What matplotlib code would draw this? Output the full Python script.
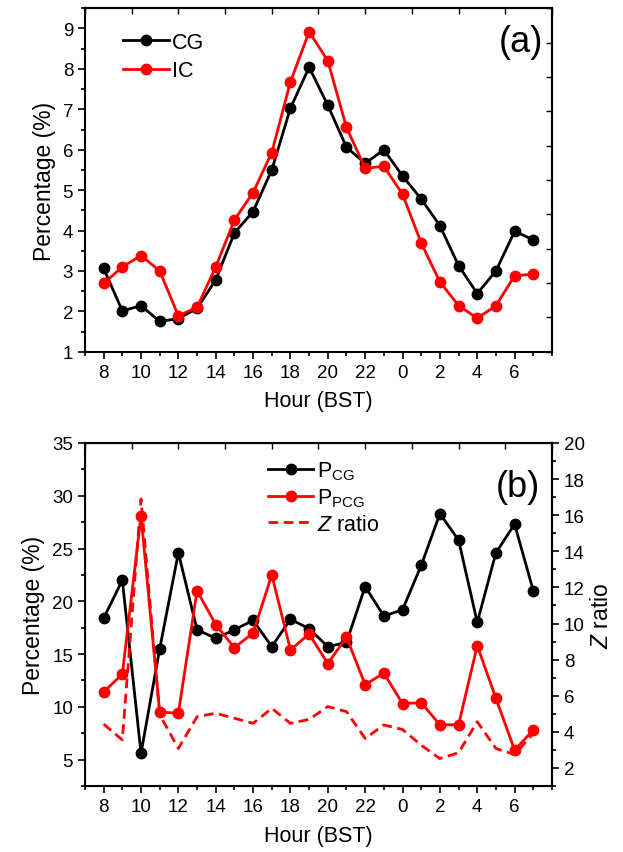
import numpy as np
import matplotlib
matplotlib.use("Agg")
import matplotlib.pyplot as plt
from matplotlib.ticker import MultipleLocator

plt.rcParams["font.family"] = ["Liberation Sans", "DejaVu Sans"]
plt.rcParams["mathtext.fontset"] = "custom"
plt.rcParams["mathtext.rm"] = "Liberation Sans"
plt.rcParams["mathtext.it"] = "Liberation Sans:italic"

# hours in BST, starting at 08
hours = [8, 9, 10, 11, 12, 13, 14, 15, 16, 17, 18, 19, 20, 21, 22, 23,
         0, 1, 2, 3, 4, 5, 6, 7]

# panel (a)
cg = [3.06, 2.01, 2.14, 1.75, 1.82, 2.07, 2.78, 3.94, 4.47, 5.50, 7.03, 8.04,
      7.10, 6.06, 5.66, 6.00, 5.35, 4.78, 4.12, 3.13, 2.44, 3.00, 3.98, 3.77]
ic = [2.69, 3.10, 3.38, 3.00, 1.89, 2.10, 3.10, 4.26, 4.94, 5.93, 7.68, 8.92,
      8.20, 6.55, 5.54, 5.59, 4.90, 3.69, 2.73, 2.14, 1.83, 2.14, 2.88, 2.92]

# panel (b)
p_cg = [18.4, 22.0, 5.6, 15.5, 24.6, 17.3, 16.5, 17.3, 18.2, 15.7, 18.3, 17.4,
        15.7, 16.1, 21.4, 18.6, 19.2, 23.4, 28.3, 25.8, 18.0, 24.6, 27.3, 21.0]
p_pcg = [11.4, 13.1, 28.1, 9.5, 9.4, 21.0, 17.8, 15.6, 17.0, 22.5, 15.4, 16.9,
         14.1, 16.6, 12.1, 13.2, 10.3, 10.4, 8.3, 8.3, 15.8, 10.8, 5.9, 7.8]
z_ratio = [4.43, 3.55, 16.9, 4.95, 3.08, 4.84, 5.03, 4.75, 4.47, 5.30, 4.47, 4.69,
           5.40, 5.12, 3.63, 4.38, 4.13, 3.26, 2.52, 2.84, 4.56, 3.08, 2.74, 3.91]

x = np.arange(len(hours))
tick_pos = x[::2]
tick_lab = [str(h) for h in hours[::2]]

fig = plt.figure(figsize=(6.23, 8.53), dpi=100)
ax1 = fig.add_axes([0.1364, 0.5865, 0.7496, 0.4026])
ax2 = fig.add_axes([0.1364, 0.0774, 0.7496, 0.4021])

lw = 2.0
ms = 7.5
tick_fs = 13.5


def frame(ax, ylim, ymaj, ymin, right_in=True):
    ax.set_xlim(-1, 24)
    ax.set_ylim(*ylim)
    ax.set_xticks(tick_pos)
    ax.set_xticklabels(tick_lab)
    ax.xaxis.set_minor_locator(MultipleLocator(1))
    ax.yaxis.set_major_locator(MultipleLocator(ymaj))
    ax.yaxis.set_minor_locator(MultipleLocator(ymin))
    ax.tick_params(which="major", direction="out", length=5, width=1.2, labelsize=tick_fs)
    ax.tick_params(which="minor", direction="out", length=3, width=1.2)
    for s in ax.spines.values():
        s.set_linewidth(1.5)
    # Origin-style top axis ticks pointing inward
    top = ax.secondary_xaxis("top")
    top.set_xticks(np.arange(-1, 24.01, 2.5))
    top.tick_params(direction="in", length=4, width=1.0, labeltop=False)
    top.xaxis.set_minor_locator(plt.NullLocator())
    top.spines["top"].set_linewidth(1.5)
    if right_in:
        y0, y1 = ylim
        right = ax.secondary_yaxis("right")
        right.set_yticks(np.linspace(y0, y1, 11))
        right.tick_params(direction="in", length=4, width=1.0, labelright=False)
        right.yaxis.set_minor_locator(plt.NullLocator())
        right.spines["right"].set_linewidth(1.5)


# ---- panel (a)
ax1.plot(x, cg, "-o", color="black", lw=lw, ms=ms, label="CG")
ax1.plot(x, ic, "-o", color="red", lw=lw, ms=ms, label="IC")
frame(ax1, (1, 9.5), 1, 0.5)
ax1.set_xlabel("Hour (BST)", fontsize=15.5, labelpad=7)
ax1.set_ylabel("Percentage (%)", fontsize=16.5, labelpad=5)
ax1.text(0.98, 0.955, "(a)", transform=ax1.transAxes, ha="right", va="top", fontsize=26)
ax1.legend(loc="upper left", bbox_to_anchor=(0.05, 0.975), frameon=False, fontsize=15.5,
           handlelength=2.1, handletextpad=0.15, labelspacing=0.33, borderpad=0.2)

# ---- panel (b)
l1, = ax2.plot(x, p_cg, "-o", color="black", lw=lw, ms=ms)
l2, = ax2.plot(x, p_pcg, "-o", color="red", lw=lw, ms=ms)
frame(ax2, (2.5, 35), 5, 2.5, right_in=False)
ax2.set_xlabel("Hour (BST)", fontsize=15.5, labelpad=7)
ax2.set_ylabel("Percentage (%)", fontsize=16.5, labelpad=5)
ax2.text(0.975, 0.925, "(b)", transform=ax2.transAxes, ha="right", va="top", fontsize=26)

ax3 = ax2.twinx()
l3, = ax3.plot(x, z_ratio, color="red", lw=lw, ls=(0, (3.5, 2)))
ax3.set_ylim(1, 20)
ax3.yaxis.set_major_locator(MultipleLocator(2))
ax3.yaxis.set_minor_locator(MultipleLocator(1))
ax3.tick_params(which="major", direction="out", length=5, width=1.2, labelsize=tick_fs)
ax3.tick_params(which="minor", direction="out", length=3, width=1.2)
ax3.spines["right"].set_linewidth(1.5)
ax3.set_ylabel(r"$\mathit{Z}$ ratio", fontsize=16.5, labelpad=4)

ax2.legend([l1, l2, l3],
           [r"P$_{\mathregular{CG}}$", r"P$_{\mathregular{PCG}}$", r"$\mathit{Z}$ ratio"],
           loc="upper left", bbox_to_anchor=(0.36, 0.995), frameon=False, fontsize=15.5,
           handlelength=2.1, handletextpad=0.15, labelspacing=0.2, borderpad=0.2)

fig.savefig("out.png", dpi=100)
